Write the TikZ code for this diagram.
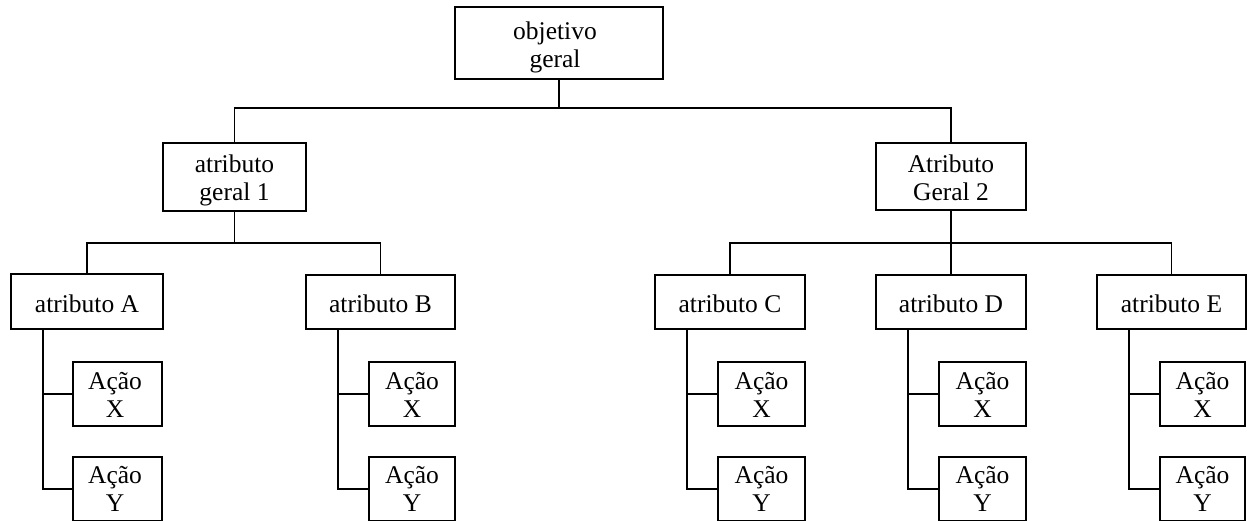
\documentclass[tikz,border=0pt]{standalone}
\usepackage{fontspec}
\setmainfont{Liberation Serif}
\tikzset{
  box/.style={draw, line width=1.5pt, inner sep=0pt, outer sep=0pt},
  txt/.style={inner sep=0pt, outer sep=0pt, anchor=north, align=center, font=\fontsize{25.5}{28}\selectfont},
  conn/.style={line width=1.5pt}
}
\begin{document}
\begin{tikzpicture}[x=1pt,y=-1pt]
\useasboundingbox (0,0) rectangle (1247,520);
\clip (0,0) rectangle (1247,520);
% boxes
\node[box, minimum width=208pt, minimum height=72pt] (top) at (559,43) {};
\node[box, minimum width=143pt, minimum height=68pt] (g1) at (234.5,177) {};
\node[box, minimum width=150pt, minimum height=67pt] (g2) at (951,176.5) {};
\node[box, minimum width=152pt, minimum height=55pt] (A) at (87,301.5) {};
\node[box, minimum width=149pt, minimum height=54pt] (B) at (380.5,302) {};
\node[box, minimum width=150pt, minimum height=54pt] (C) at (730,302) {};
\node[box, minimum width=150pt, minimum height=54pt] (D) at (951,302) {};
\node[box, minimum width=149pt, minimum height=54pt] (E) at (1171.5,302) {};
\node[box, minimum width=89pt, minimum height=64pt] (AX) at (117.5,394) {};
\node[box, minimum width=89pt, minimum height=64pt] (AY) at (117.5,489) {};
\node[box, minimum width=86pt, minimum height=64pt] (BX) at (412,394) {};
\node[box, minimum width=86pt, minimum height=64pt] (BY) at (412,489) {};
\node[box, minimum width=87pt, minimum height=64pt] (CX) at (761.5,394) {};
\node[box, minimum width=87pt, minimum height=64pt] (CY) at (761.5,489) {};
\node[box, minimum width=87pt, minimum height=64pt] (DX) at (982.5,394) {};
\node[box, minimum width=87pt, minimum height=64pt] (DY) at (982.5,489) {};
\node[box, minimum width=85pt, minimum height=64pt] (EX) at (1202.5,394) {};
\node[box, minimum width=85pt, minimum height=64pt] (EY) at (1202.5,489) {};
% texts
\node[txt] (topt) at (555,19.4) {\strut objetivo\\\strut geral};
\node[txt] (g1t) at (234.5,153.1) {\strut atributo\\\strut geral 1};
\node[txt] (g2t) at (951,153.1) {\strut Atributo\\\strut Geral 2};
\node[txt] (At) at (87,293.1) {\strut atributo A};
\node[txt] (Bt) at (380.5,293.1) {\strut atributo B};
\node[txt] (Ct) at (730,293.1) {\strut atributo C};
\node[txt] (Dt) at (951,293.1) {\strut atributo D};
\node[txt] (Et) at (1171.5,293.1) {\strut atributo E};
\foreach \n/\x in {A/115,B/412,C/761.5,D/982.5,E/1202.5}{
  \node[txt] (\n Xt) at (\x,369.4) {\strut Ação\\\strut X};
  \node[txt] (\n Yt) at (\x,463.9) {\strut Ação\\\strut Y};
}
% connectors
\coordinate (bus1) at (0,108);
\coordinate (bus2) at (0,243);
\draw[conn] (top.south) -- (top.south |- bus1);
\draw[conn] (g1.north) |- (bus1 -| g2.north) -- (g2.north);
\draw[conn] (g1.south) -- (g1.south |- bus2);
\draw[conn] (A.north) |- (bus2 -| B.north) -- (B.north);
\draw[conn] (g2.south) -- (g2.south |- bus2);
\draw[conn] (C.north) |- (bus2 -| E.north) -- (E.north);
\draw[conn] (D.north) -- (D.north |- bus2);
\foreach \n in {A,B,C,D,E}{
  \coordinate (\n d) at ([xshift=32pt]\n.south west);
  \draw[conn] (\n d) |- (\n Y.west);
  \draw[conn] (\n X.west) -- (\n X.west -| \n d);
}
\end{tikzpicture}
\end{document}
